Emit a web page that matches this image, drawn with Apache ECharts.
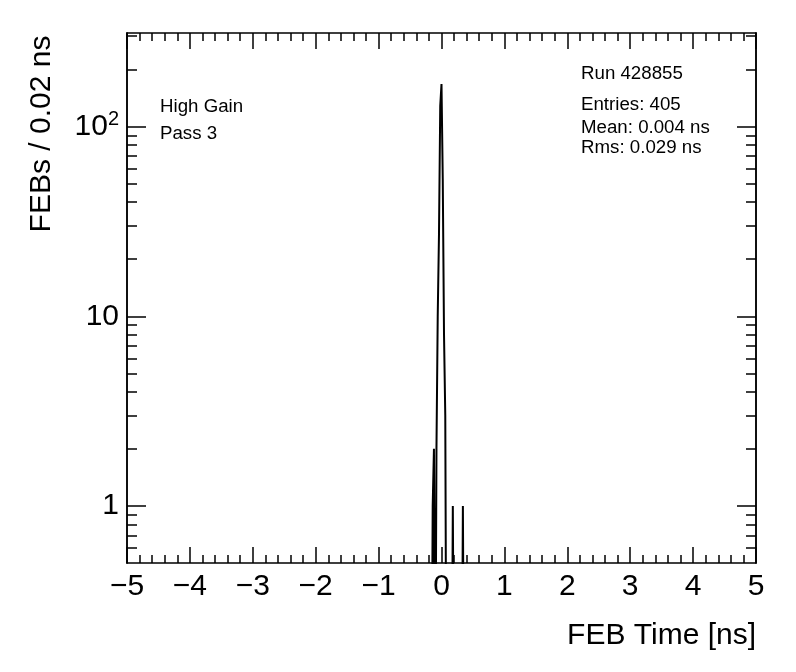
<!DOCTYPE html>
<html><head><meta charset="utf-8">
<script src="https://cdn.jsdelivr.net/npm/echarts@6/dist/echarts.min.js"></script>
<style>html,body{margin:0;padding:0;background:#fff}#c{width:796px;height:672px}</style>
</head><body><div id="c"></div>
<script>
// ---- data ----
const binWidth = 0.02;
const xMin = -5, xMax = 5;
const binLow = [-0.14, -0.12, -0.08, -0.06, -0.04, -0.02, 0.00, 0.02, 0.04, 0.06, 0.18, 0.34];
const counts = [1, 2, 2, 10, 27, 129, 168, 53, 8, 3, 1, 1];
const xTickInterval = 1;
const yMin = 0.5, yMax = 312;
const yMajor = [1, 10, 100];
const yMinor = [0.6, 0.7, 0.8, 0.9, 2, 3, 4, 5, 6, 7, 8, 9, 20, 30, 40, 50, 60, 70, 80, 90, 200, 300];
const infoLeft = ['High Gain', 'Pass 3'];
const infoRight = ['Run 428855', 'Entries: 405', 'Mean: 0.004 ns', 'Rms: 0.029 ns'];
const xTitle = 'FEB Time [ns]';
const yTitle = 'FEBs / 0.02 ns';

// ---- build histogram outline ----
const nBins = Math.round((xMax - xMin) / binWidth);
const vals = new Array(nBins).fill(0);
binLow.forEach((b, k) => { vals[Math.round((b - xMin) / binWidth)] = counts[k]; });
const FLOOR = 0.05; // empty bins fall below the axis (log scale) and are clipped
const histData = [];
for (let i = 0; i < nBins; i++) {
  const x = Math.round((xMin + i * binWidth) * 1000) / 1000;
  histData.push([x, vals[i] > 0 ? vals[i] : FLOOR]);
}
histData.push([xMax, vals[nBins - 1] > 0 ? vals[nBins - 1] : FLOOR]);

const FONT = 'Liberation Sans, Arial, Helvetica, sans-serif';
const black = '#000';
const lw = 1.5;

function xAx(pos, labels) {
  return {
    type: 'value', position: pos, min: xMin, max: xMax, interval: xTickInterval,
    axisLine: { show: true, onZero: false, lineStyle: { color: black, width: lw } },
    axisTick: { show: true, inside: true, length: 16, lineStyle: { color: black, width: lw } },
    minorTick: { show: true, splitNumber: 5, length: 8, lineStyle: { color: black, width: lw } },
    splitLine: { show: false },
    axisLabel: labels ? {
      show: true, fontFamily: FONT, fontSize: 30, color: black, margin: 9,
      formatter: v => (v < 0 ? '\u2212' + Math.abs(v) : String(v))
    } : { show: false }
  };
}
function yAx(pos, ticks, len, labels) {
  return {
    type: 'log', logBase: 10, position: pos, min: yMin, max: yMax,
    axisLine: { show: true, onZero: false, lineStyle: { color: black, width: lw } },
    axisTick: { show: true, inside: true, length: len, customValues: ticks, lineStyle: { color: black, width: lw } },
    minorTick: { show: false },
    splitLine: { show: false },
    axisLabel: labels ? {
      show: true, customValues: yMajor, margin: 8, color: black,
      formatter: v => {
        if (v >= 100) return '{b|10}{s|' + Math.round(Math.log10(v)) + '}';
        return '{b|' + v + '}';
      },
      rich: {
        b: { fontFamily: FONT, fontSize: 30, color: black, lineHeight: 34 },
        s: { fontFamily: FONT, fontSize: 20, color: black, verticalAlign: 'top', lineHeight: 34, padding: [0, 0, 14, 0] }
      }
    } : { show: false }
  };
}

const chart = echarts.init(document.getElementById('c'), null, { renderer: 'canvas' });
const gTexts = [];
const lefty = [107, 134];
infoLeft.forEach((t, i) => gTexts.push({ type: 'text', x: 160, y: lefty[i],
  style: { text: t, font: '18.7px ' + FONT, fill: black, textVerticalAlign: 'middle' } }));
const righty = [74, 105, 128, 148];
infoRight.forEach((t, i) => gTexts.push({ type: 'text', x: 581, y: righty[i],
  style: { text: t, font: '18.7px ' + FONT, fill: black, textVerticalAlign: 'middle' } }));
gTexts.push({ type: 'text', x: 756, y: 636,
  style: { text: xTitle, font: '30px ' + FONT, fill: black, textAlign: 'right', textVerticalAlign: 'middle' } });
gTexts.push({ type: 'text', x: 42, y: 134, rotation: Math.PI / 2,
  style: { text: yTitle, font: '30px ' + FONT, fill: black, textAlign: 'center', textVerticalAlign: 'middle' } });

chart.setOption({
  animation: false,
  backgroundColor: '#fff',
  grid: { left: 127, right: 40, top: 33, bottom: 109, containLabel: false },
  xAxis: [xAx('bottom', true), xAx('top', false)],
  yAxis: [
    yAx('left', yMajor, 19, true),
    yAx('left', yMinor, 10, false),
    yAx('right', yMajor, 19, false),
    yAx('right', yMinor, 10, false)
  ],
  series: [{
    type: 'line', xAxisIndex: 0, yAxisIndex: 0, data: histData, step: 'end',
    symbol: 'none', clip: true,
    lineStyle: { color: black, width: 2 }
  }],
  graphic: gTexts
});
</script></body></html>
